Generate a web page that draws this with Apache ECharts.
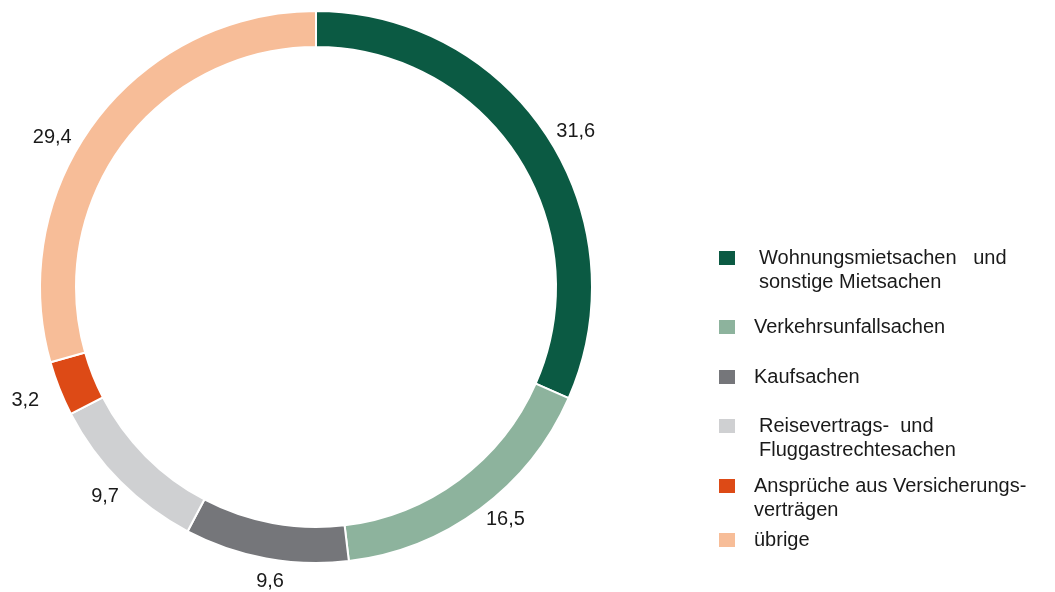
<!DOCTYPE html>
<html>
<head>
<meta charset="utf-8">
<script src="https://cdn.jsdelivr.net/npm/echarts@6/dist/echarts.min.js"></script>
<style>
html,body{margin:0;padding:0;background:#fff;}
#chart{width:1055px;height:592px;}
</style>
</head>
<body>
<div id="chart"></div>
<script>
const categories = [
  'Wohnungsmietsachen und sonstige Mietsachen',
  'Verkehrsunfallsachen',
  'Kaufsachen',
  'Reisevertrags- und Fluggastrechtesachen',
  'Ansprüche aus Versicherungsverträgen',
  'übrige'
];
const legendLabels = [
  'Wohnungsmietsachen   und\nsonstige Mietsachen',
  'Verkehrsunfallsachen',
  'Kaufsachen',
  'Reisevertrags-  und\nFluggastrechtesachen',
  'Ansprüche aus Versicherungs-\nverträgen',
  'übrige'
];
const values = [31.6, 16.5, 9.6, 9.7, 3.2, 29.4];

const palette = ['#0b5a43', '#8db39d', '#75767a', '#cfd0d2', '#dd4a16', '#f7bd98'];
// small nudges of the value labels (hand-placed in the original)
const labelNudges = [[6, 10], [9, -11], [9, -3], [4, -4], [-9, 2], [-22, 33]];
const FONT = '"Liberation Sans", Arial, sans-serif';
const TEXT = '#1a1a1a';

const chart = echarts.init(document.getElementById('chart'), null, {renderer: 'canvas'});

const fmt = v => v.toFixed(1).replace('.', ',');

// legend layout: one legend component per entry
const legendTops = [222, 315, 365, 390, 450, 528];
const legendPadLeft = [18, 13, 13, 18, 13, 13];
const legends = categories.map((name, i) => {
  const twoLine = legendLabels[i].indexOf('\n') >= 0;
  return {
    orient: 'vertical',
    left: 717,
    top: legendTops[i],
    padding: 0,
    itemWidth: 18,
    itemHeight: 16,
    icon: 'rect',
    selectedMode: false,
    data: [{name: name, itemStyle: {color: palette[i]}}],
    formatter: () => (twoLine ? ' \n' : '') + legendLabels[i],
    textStyle: {
      fontFamily: FONT,
      fontSize: 20,
      lineHeight: 24,
      color: TEXT,
      padding: [0, 0, 0, legendPadLeft[i]]
    }
  };
});

const pieData = categories.map((name, i) => ({
  name: name,
  value: values[i],
  itemStyle: {color: palette[i]}
}));

const labelData = categories.map((name, i) => ({
  name: name,
  value: values[i],
  label: {offset: labelNudges[i]}
}));

chart.setOption({
  animation: false,
  backgroundColor: '#fff',
  legend: legends,
  series: [
    {
      type: 'pie',
      center: [316, 287],
      radius: [240, 276],
      startAngle: 90,
      clockwise: true,
      silent: true,
      itemStyle: {borderColor: '#fff', borderWidth: 2},
      label: {show: false},
      labelLine: {show: false},
      emphasis: {disabled: true},
      data: pieData
    },
    {
      type: 'pie',
      center: [316, 287],
      radius: [290, 310],
      startAngle: 90,
      clockwise: true,
      silent: true,
      avoidLabelOverlap: false,
      itemStyle: {color: 'rgba(0,0,0,0)'},
      label: {
        show: true,
        position: 'inside',
        formatter: p => fmt(p.value),
        fontFamily: FONT,
        fontSize: 20,
        color: TEXT
      },
      labelLine: {show: false},
      emphasis: {disabled: true},
      data: labelData
    }
  ]
});
</script>
</body>
</html>
